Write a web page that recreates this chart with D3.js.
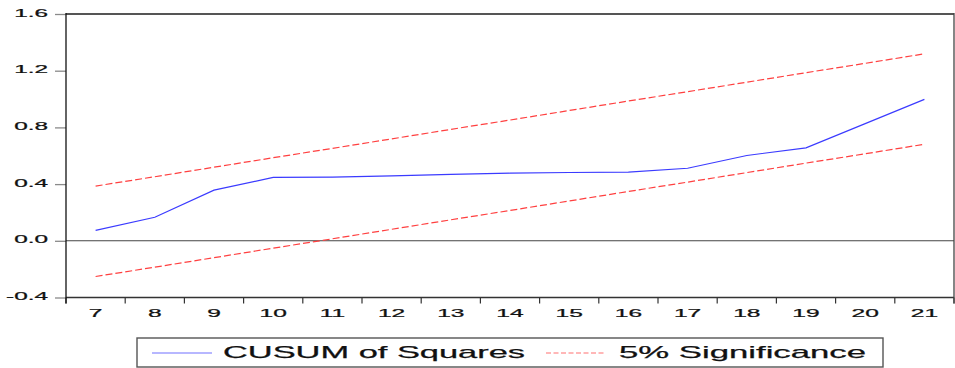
<!DOCTYPE html>
<html>
<head>
<meta charset="utf-8">
<script src="https://cdn.jsdelivr.net/npm/d3@7"></script>
<style>
  html, body { margin: 0; padding: 0; background: #fff; }
  svg { display: block; }
  text { font-family: "Liberation Sans", Arial, sans-serif; fill: #111; stroke: #111; stroke-width: 0.25px; }
</style>
</head>
<body>
<svg id="chart" width="955" height="368"></svg>
<script>
// Recursive residual test: CUSUM of squares with 5% bands
const categories = [7, 8, 9, 10, 11, 12, 13, 14, 15, 16, 17, 18, 19, 20, 21];
const cusumSq = [0.074, 0.166, 0.357, 0.447, 0.449, 0.458, 0.468, 0.477, 0.482, 0.484, 0.512, 0.602, 0.656, 0.827, 0.998];
const upperBand = [0.386, 0.452, 0.519, 0.586, 0.652, 0.719, 0.786, 0.852, 0.919, 0.986, 1.052, 1.119, 1.186, 1.252, 1.319];
const lowerBand = [-0.252, -0.186, -0.119, -0.052, 0.014, 0.081, 0.148, 0.214, 0.281, 0.348, 0.414, 0.481, 0.548, 0.614, 0.681];
const yTicks = [-0.4, 0.0, 0.4, 0.8, 1.2, 1.6];
const seriesNames = ["CUSUM of Squares", "5% Significance"];

const svg = d3.select("#chart");
const plot = { left: 66, right: 954, top: 14, bottom: 297.5 };
const STRETCH = 2.08;  // wide-glyph text

const x = d3.scaleBand().domain(categories).range([plot.left, plot.right]).padding(0);
const y = d3.scaleLinear().domain([-0.4, 1.6]).range([plot.bottom, plot.top]);
const cx = c => x(c) + x.bandwidth() / 2;

// y axis ticks and labels
const yAxis = svg.append("g")
  .attr("transform", `translate(${plot.left},0)`)
  .call(d3.axisLeft(y).tickValues(yTicks).tickSize(11).tickFormat(d => d.toFixed(1)));
yAxis.select(".domain").remove();
yAxis.selectAll(".tick line").attr("stroke", "#8a8a8a").attr("stroke-width", 1.3);
yAxis.selectAll(".tick text")
  .attr("x", null).attr("dy", null)
  .attr("transform", `translate(-18,2) scale(${STRETCH},1)`)
  .attr("text-anchor", "end")
  .style("font-size", "11.7px")
  .attr("fill", "#111");

// x axis labels at band centres
const xAxis = svg.append("g")
  .attr("transform", `translate(0,${plot.bottom})`)
  .call(d3.axisBottom(x).tickSize(0).tickPadding(0));
xAxis.select(".domain").remove();
xAxis.selectAll(".tick text")
  .attr("y", null).attr("dy", null)
  .attr("transform", `translate(0,19.5) scale(${STRETCH},1)`)
  .attr("text-anchor", "middle")
  .style("font-size", "11.8px")
  .attr("fill", "#111");

// x tick marks at band boundaries
const edges = categories.map(c => x(c)).concat([plot.right]);
svg.append("g").selectAll("line").data(edges).join("line")
  .attr("x1", d => d).attr("x2", d => d)
  .attr("y1", plot.bottom).attr("y2", plot.bottom + 6)
  .attr("stroke", "#333").attr("stroke-width", 1.2);

// zero reference line
svg.append("line")
  .attr("x1", plot.left).attr("x2", plot.right)
  .attr("y1", y(0)).attr("y2", y(0))
  .attr("stroke", "#444").attr("stroke-width", 1.1);

// frame
svg.append("line").attr("x1", plot.left).attr("x2", plot.right)
  .attr("y1", plot.top).attr("y2", plot.top)
  .attr("stroke", "#555").attr("stroke-width", 2);
svg.append("line").attr("x1", plot.left).attr("x2", plot.right)
  .attr("y1", plot.bottom).attr("y2", plot.bottom)
  .attr("stroke", "#333").attr("stroke-width", 1.3);
svg.append("line").attr("x1", plot.left).attr("x2", plot.left)
  .attr("y1", plot.top - 1).attr("y2", plot.bottom + 6)
  .attr("stroke", "#111").attr("stroke-width", 1.3);
svg.append("line").attr("x1", plot.right).attr("x2", plot.right)
  .attr("y1", plot.top - 1).attr("y2", plot.bottom + 6)
  .attr("stroke", "#444").attr("stroke-width", 1.3);

// series
const line = d3.line().x((d, i) => cx(categories[i])).y(d => y(d));
svg.append("path").datum(upperBand).attr("d", line)
  .attr("fill", "none").attr("stroke", "#ff4040").attr("stroke-width", 1.2)
  .attr("stroke-dasharray", "7,3");
svg.append("path").datum(lowerBand).attr("d", line)
  .attr("fill", "none").attr("stroke", "#ff4040").attr("stroke-width", 1.2)
  .attr("stroke-dasharray", "7,3");
svg.append("path").datum(cusumSq).attr("d", line)
  .attr("fill", "none").attr("stroke", "#3b3bff").attr("stroke-width", 1.2);

// legend
const lg = svg.append("g");
lg.append("rect").attr("x", 137).attr("y", 338).attr("width", 746).attr("height", 29)
  .attr("fill", "#fff").attr("stroke", "#555").attr("stroke-width", 1.4);
lg.append("line").attr("x1", 152).attr("x2", 212).attr("y1", 353).attr("y2", 353)
  .attr("stroke", "#7070ff").attr("stroke-width", 1.2);
lg.append("text").text(seriesNames[0])
  .attr("x", 223).attr("y", 357.5)
  .attr("textLength", 302).attr("lengthAdjust", "spacingAndGlyphs")
  .style("font-size", "17px");
lg.append("line").attr("x1", 546).attr("x2", 606).attr("y1", 353).attr("y2", 353)
  .attr("stroke", "#ff7070").attr("stroke-width", 1.2).attr("stroke-dasharray", "5,2.5");
lg.append("text").text(seriesNames[1])
  .attr("x", 619).attr("y", 357.5)
  .attr("textLength", 247).attr("lengthAdjust", "spacingAndGlyphs")
  .style("font-size", "17px");
</script>
</body>
</html>
